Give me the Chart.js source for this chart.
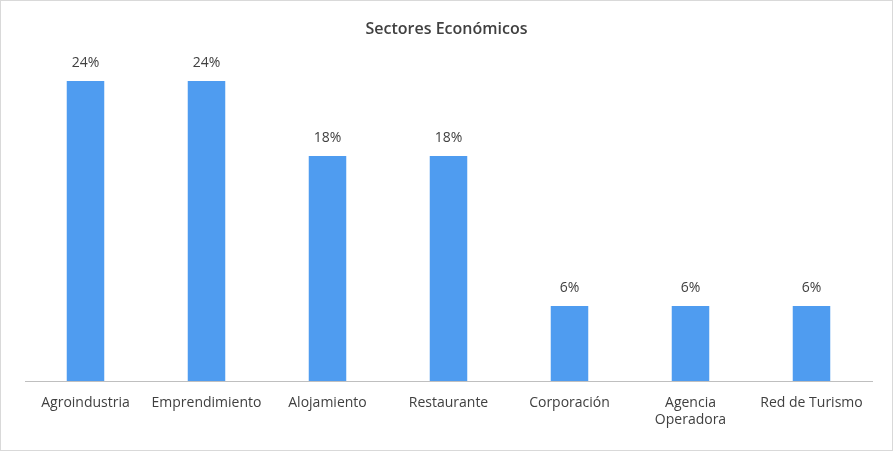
<!DOCTYPE html>
<html>
<head>
<meta charset="utf-8">
<script src="https://cdn.jsdelivr.net/npm/chart.js@4"></script>
<style>
  body { margin: 0; background: #fff; }
  #wrap { width: 891px; height: 449px; border: 1px solid #d9d9d9; }
</style>
</head>
<body>
<div id="wrap"><canvas id="chart" width="891" height="449"></canvas></div>
<script>
const categories = ['Agroindustria', 'Emprendimiento', 'Alojamiento', 'Restaurante', 'Corporación', ['Agencia', 'Operadora'], 'Red de Turismo'];
const values = [24, 24, 18, 18, 6, 6, 6];
const chartTitle = 'Sectores Económicos';

const fontFamily = '"Open Sans", "Liberation Sans", sans-serif';

// draws title and value labels
const labelPlugin = {
    id: 'labels',
    afterDatasetsDraw(chart) {
        const ctx = chart.ctx;
        ctx.save();
        ctx.fillStyle = '#404040';
        ctx.textAlign = 'center';
        ctx.textBaseline = 'middle';
        ctx.font = '600 16px ' + fontFamily;
        ctx.fillText(chartTitle, chart.width / 2, 28);
        ctx.font = '14px ' + fontFamily;
        chart.getDatasetMeta(0).data.forEach((bar, i) => {
            ctx.fillText(values[i] + '%', bar.x, bar.y - 18);
        });
        ctx.restore();
    }
};

new Chart(document.getElementById('chart').getContext('2d'), {
    type: 'bar',
    data: {
        labels: categories,
        datasets: [{
            data: values,
            backgroundColor: '#4f9cf0',
            categoryPercentage: 1,
            barPercentage: 0.31
        }]
    },
    options: {
        responsive: false,
        animation: false,
        layout: { padding: { top: 80, left: 24, right: 20, bottom: 0 } },
        plugins: { legend: { display: false }, title: { display: false }, tooltip: { enabled: false } },
        scales: {
            x: {
                grid: { display: false, drawTicks: false },
                border: { color: '#bfbfbf', width: 1 },
                ticks: { color: '#404040', padding: 14, maxRotation: 0, autoSkip: false, font: { family: fontFamily, size: 14 } },
                afterFit(scale) { scale.height = 69; }
            },
            y: { display: false, min: 0, max: 24 }
        }
    },
    plugins: [labelPlugin]
});
</script>
</body>
</html>
